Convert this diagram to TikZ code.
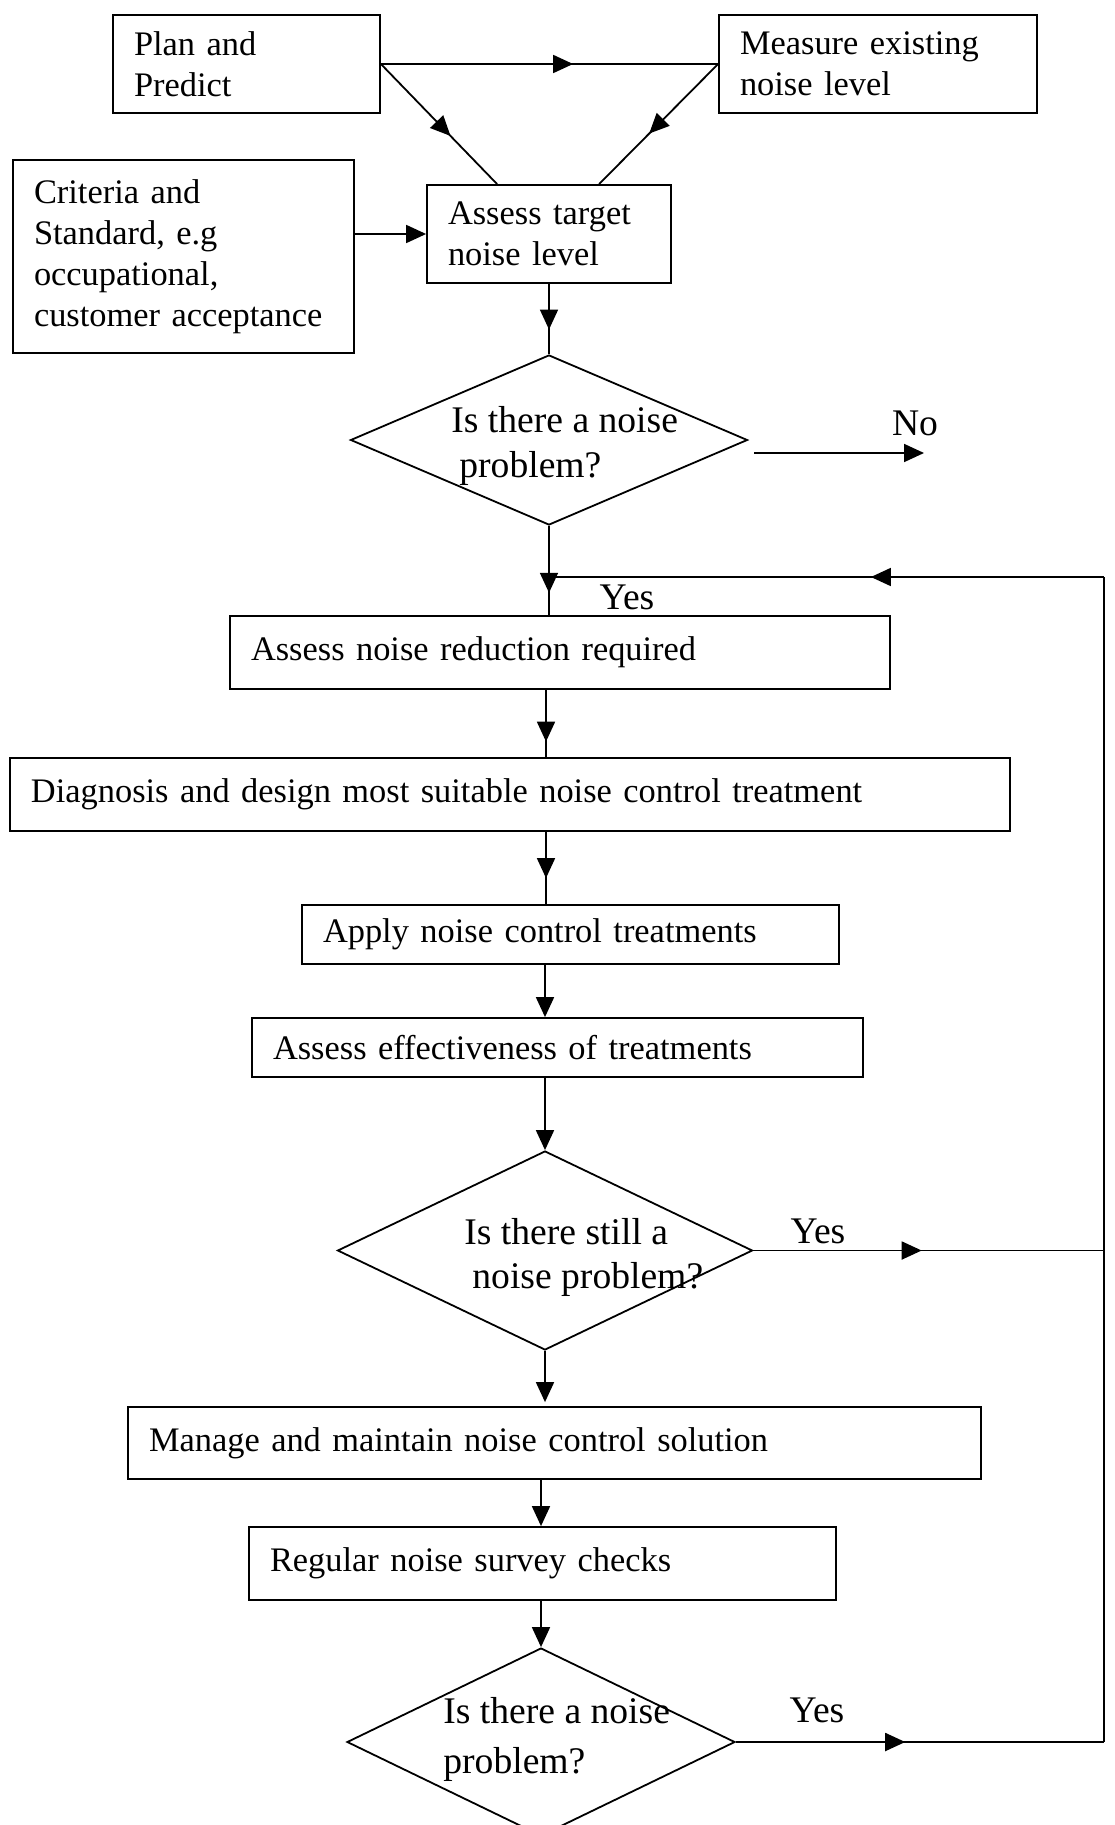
\documentclass[tikz,border=0pt]{standalone}
\usepackage{fontspec}
\setmainfont{Liberation Serif}
\usetikzlibrary{arrows.meta,decorations.markings,shapes.geometric,calc}
\tikzset{
  lw/.style={line width=0.9pt},
  txt/.style={font=\fontsize{17.2}{20.5}\selectfont},
  bigtxt/.style={font=\fontsize{18.8}{22}\selectfont},
  box/.style={draw, lw, rectangle, align=left, inner xsep=10.5pt, inner ysep=0pt, txt},
  dia/.style={draw, lw, diamond, inner sep=0pt},
  lbl/.style={inner sep=0pt, bigtxt},
  endarr/.style={-{Triangle[length=10pt,width=9pt]}},
  midarr/.style={postaction={decorate}, decoration={markings, mark=at position #1 with {\arrow{Triangle[length=10pt,width=9pt]}}}},
}
\begin{document}
\begin{tikzpicture}[x=0.5pt, y=-0.5pt]
\useasboundingbox (0,0) rectangle (1114,1825);
\clip (0,0) rectangle (1114,1825);
\fill[white] (0,0) rectangle (1114,1825);

% boxes
\node[box, text width=112.5pt, minimum height=49pt] (plan) at (246.5,64) {Plan and\\Predict};
\node[box, text width=138pt, minimum height=49pt] (meas) at (878,64) {Measure existing\\noise level};
\node[box, text width=149.5pt, minimum height=96.5pt] (crit) at (183.5,256.5) {Criteria and\\Standard, e.g\\occupational,\\customer acceptance};
\node[box, text width=101pt, minimum height=49pt] (targ) at (549,234) {Assess target\\noise level};
\node[box, text width=309pt, minimum height=36.5pt] (red) at (560,652.5) {Assess noise reduction required};
\node[box, text width=479pt, minimum height=36.5pt] (diag) at (510,794.5) {Diagnosis and design most suitable noise control treatment};
\node[box, text width=247.5pt, minimum height=29.5pt] (apply) at (570.5,934.5) {Apply noise control treatments};
\node[box, text width=284.5pt, minimum height=29.5pt] (eff) at (557.5,1047.5) {Assess effectiveness of treatments};
\node[box, text width=405.5pt, minimum height=36pt] (man) at (554.5,1443) {Manage and maintain noise control solution};
\node[box, text width=272.5pt, minimum height=36.5pt] (reg) at (542.5,1563.5) {Regular noise survey checks};

% diamonds
\node[dia, minimum width=198.5pt, minimum height=85pt] (d1) at (549,440) {};
\node[dia, minimum width=207.5pt, minimum height=99.5pt] (d2) at (545,1250.5) {};
\node[dia, minimum width=194pt, minimum height=94pt] (d3) at (541,1742) {};

\node[lbl, anchor=base west] (d1a) at (451,432) {Is there a noise};
\node[lbl, anchor=base west] (d1b) at (459,477) {problem?};
\node[lbl, anchor=base west] (d2a) at (464,1244) {Is there still a};
\node[lbl, anchor=base west] (d2b) at (472,1288) {noise problem?};
\node[lbl, anchor=base west] (d3a) at (443,1723) {Is there a noise};
\node[lbl, anchor=base west] (d3b) at (443,1773) {problem?};

% coordinates
\coordinate (noend) at (924,453);
\coordinate (fbtop) at (1104,577);
\coordinate (axis) at (546,0);

% top connectors
\draw[lw, midarr=0.57] (plan.east) -- (meas.west);
\draw[lw, midarr=0.6] (plan.east) -- ([xshift=35.5pt]targ.north west);
\draw[lw, midarr=0.58] (meas.west) -- ([xshift=86.5pt]targ.north west);
\draw[lw, endarr] (crit.east |- targ.west) -- (targ.west);
\draw[lw, midarr=0.65] (targ.south) -- (d1.north);

% No branch
\draw[lw, endarr] ([xshift=3pt,yshift=-6.5pt]d1.east) -- (noend);
\node[lbl] (no) at (915,423) {No};

% main column
\draw[lw, midarr=0.75] (d1.south) -- (d1.south |- red.north);
\draw[lw, midarr=0.42] (fbtop) -- (fbtop -| d1.south);
\node[lbl] (yes1) at (627,597) {Yes};
\draw[lw, midarr=0.77] (red.south -| axis) -- (diag.north -| axis);
\draw[lw, midarr=0.64] (diag.south -| axis) -- (apply.north -| axis);
\draw[lw, endarr] (apply.south -| d2.north) -- (eff.north -| d2.north);
\draw[lw, endarr] (eff.south -| d2.north) -- (d2.north);
\draw[lw, endarr, shorten >=2pt] (d2.south) -- (man.north -| d2.south);
\draw[lw, endarr] (man.south -| d3.north) -- (reg.north -| d3.north);
\draw[lw, endarr] (reg.south -| d3.north) -- (d3.north);

% feedback loop
\draw[lw, midarr=0.48] (d2.east) -- (d2.east -| fbtop);
\node[lbl] (yes2) at (818,1231) {Yes};
\draw[lw, midarr=0.46] (d3.east) -- (d3.east -| fbtop);
\node[lbl] (yes3) at (817,1710) {Yes};
\draw[lw] (fbtop) -- (fbtop |- d3.east);
\end{tikzpicture}
\end{document}
